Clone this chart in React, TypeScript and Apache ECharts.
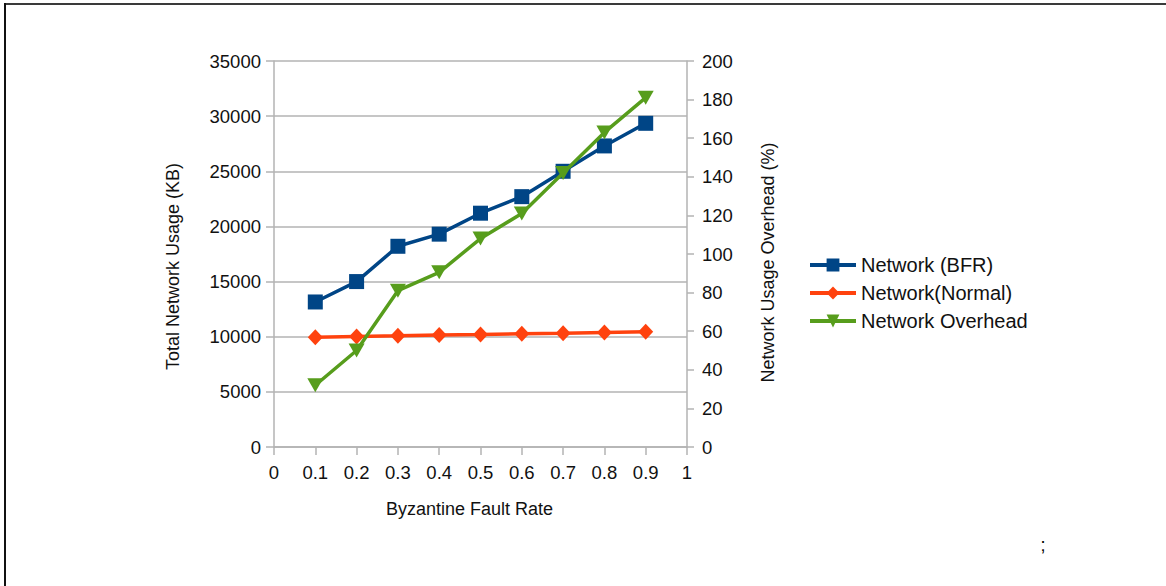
import React, { useEffect, useRef } from "react";
import * as echarts from "echarts";

// Byzantine fault rate on the x axis
const faultRates = [0.1, 0.2, 0.3, 0.4, 0.5, 0.6, 0.7, 0.8, 0.9];
// Total network usage in KB (left axis)
const networkBFR = [13150, 15000, 18200, 19300, 21200, 22700, 25000, 27300, 29350];
const networkNormal = [9950, 10030, 10080, 10150, 10200, 10270, 10310, 10380, 10440];
// Network usage overhead in % (right axis)
const networkOverhead = [32, 50, 81, 90.5, 108, 121, 142, 163, 181];

const seriesNames = ["Network (BFR)", "Network(Normal)", "Network Overhead"];

const AXIS_GRAY = "#b3b3b3";
const TEXT = "#111";
const FONT = "'Liberation Sans', Arial, sans-serif";

const pairs = (xs: number[], ys: number[]) => xs.map((x, i) => [x, ys[i]]);

export default function App() {
  const ref = useRef<HTMLDivElement>(null);

  useEffect(() => {
    document.body.style.margin = "0";
    if (!ref.current) return;
    const chart = echarts.init(ref.current, undefined, { renderer: "svg" });

    chart.setOption({
      animation: false,
      backgroundColor: "#fff",
      textStyle: { fontFamily: FONT, color: TEXT },
      grid: { left: 274, right: 479, top: 61, bottom: 139, containLabel: false },
      legend: {
        orient: "vertical",
        left: 808,
        top: 255,
        padding: 0,
        itemWidth: 46,
        itemHeight: 16,
        itemGap: 8,
        lineStyle: { width: 4 },
        textStyle: { fontFamily: FONT, fontSize: 20, color: TEXT },
        data: seriesNames,
      },
      xAxis: {
        type: "value",
        min: 0,
        max: 1,
        interval: 0.1,
        name: "Byzantine Fault Rate",
        nameLocation: "middle",
        nameGap: 53,
        nameTextStyle: { fontFamily: FONT, fontSize: 18, color: TEXT, padding: [0, 22, 0, 0] },
        axisLine: { show: true, lineStyle: { color: AXIS_GRAY, width: 1.5 } },
        axisTick: { show: true, length: 8, lineStyle: { color: AXIS_GRAY, width: 1.5 } },
        axisLabel: { margin: 16, fontSize: 18.5, color: TEXT, fontFamily: FONT, formatter: (v: number) => String(+v.toFixed(1)) },
        splitLine: { show: false },
      },
      yAxis: [
        {
          type: "value",
          min: 0,
          max: 35000,
          interval: 5000,
          name: "Total Network Usage (KB)",
          nameLocation: "middle",
          nameGap: 92,
          nameTextStyle: { fontFamily: FONT, fontSize: 18, color: TEXT, padding: [0, 25, 0, 0] },
          axisLine: { show: true, lineStyle: { color: AXIS_GRAY, width: 1.5 } },
          axisTick: { show: true, length: 8, lineStyle: { color: AXIS_GRAY, width: 1.5 } },
          axisLabel: { margin: 13, fontSize: 18.5, color: TEXT, fontFamily: FONT, formatter: (v: number) => String(v) },
          splitLine: { show: true, lineStyle: { color: AXIS_GRAY, width: 1.5 } },
        },
        {
          type: "value",
          min: 0,
          max: 200,
          interval: 20,
          name: "Network Usage Overhead (%)",
          nameLocation: "middle",
          nameGap: 72,
          nameRotate: 90,
          nameTextStyle: { fontFamily: FONT, fontSize: 18, color: TEXT, padding: [0, 17, 0, 0] },
          axisLine: { show: true, lineStyle: { color: AXIS_GRAY, width: 1.5 } },
          axisTick: { show: true, length: 7, lineStyle: { color: AXIS_GRAY, width: 1.5 } },
          axisLabel: { margin: 15, fontSize: 18.5, color: TEXT, fontFamily: FONT },
          splitLine: { show: false },
        },
      ],
      series: [
        {
          name: seriesNames[0],
          type: "line",
          yAxisIndex: 0,
          data: pairs(faultRates, networkBFR),
          symbol: "rect",
          symbolSize: 15,
          itemStyle: { color: "#004586" },
          lineStyle: { color: "#004586", width: 3.5 },
          z: 3,
        },
        {
          name: seriesNames[1],
          type: "line",
          yAxisIndex: 0,
          data: pairs(faultRates, networkNormal),
          symbol: "diamond",
          symbolSize: [15, 16],
          itemStyle: { color: "#ff420e" },
          lineStyle: { color: "#ff420e", width: 3.5 },
          z: 4,
        },
        {
          name: seriesNames[2],
          type: "line",
          yAxisIndex: 1,
          data: pairs(faultRates, networkOverhead),
          symbol: "triangle",
          symbolRotate: 180,
          symbolSize: [16, 14],
          itemStyle: { color: "#579d1c" },
          lineStyle: { color: "#579d1c", width: 3.5 },
          z: 5,
        },
      ],
      graphic: [
        { type: "rect", shape: { x: 4, y: 3, width: 1162, height: 2 }, style: { fill: "#3a3a3a" } },
        { type: "rect", shape: { x: 4, y: 3, width: 2, height: 583 }, style: { fill: "#111" } },
        {
          type: "text",
          x: 1043,
          y: 545,
          style: { text: ";", fontSize: 18, fontFamily: FONT, fill: "#000", align: "center", verticalAlign: "middle" },
        },
      ],
    });

    return () => chart.dispose();
  }, []);

  return <div ref={ref} style={{ width: 1166, height: 586 }} />;
}
